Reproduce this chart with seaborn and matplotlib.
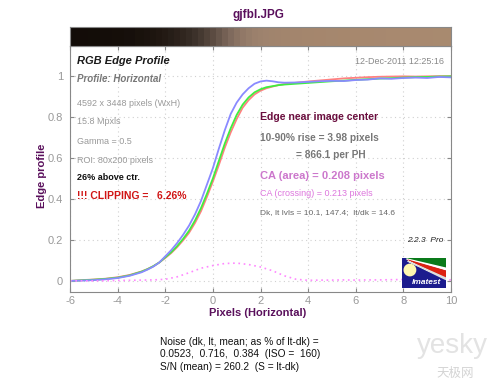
import numpy as np
import pandas as pd
import matplotlib
matplotlib.use("Agg")
import matplotlib.pyplot as plt
from matplotlib.patches import Polygon, Ellipse, Rectangle
import seaborn as sns

# Edge profile data (pixels vs normalized level)
pixels = [-6, -5.5, -5, -4.5, -4, -3.5, -3, -2.75, -2.5, -2.25, -2, -1.75, -1.5, -1.25,
          -1, -0.75, -0.5, -0.25, 0, 0.25, 0.5, 0.75, 1, 1.25, 1.5, 1.75, 2, 2.25, 2.5,
          2.75, 3, 3.5, 4, 4.5, 5, 5.5, 6, 6.5, 7, 7.5, 8, 8.5, 9, 9.5, 10]
red = [0.0, 0.004, 0.007, 0.011, 0.018, 0.029, 0.046, 0.058, 0.072, 0.09, 0.112, 0.136,
       0.165, 0.198, 0.235, 0.283, 0.34, 0.41, 0.485, 0.565, 0.65, 0.725, 0.79, 0.845,
       0.882, 0.91, 0.928, 0.94, 0.948, 0.955, 0.96, 0.967, 0.973, 0.978, 0.983, 0.988,
       0.991, 0.994, 0.996, 0.997, 0.998, 0.997, 0.998, 0.999, 0.999]
green = [0.0, 0.003, 0.006, 0.01, 0.016, 0.027, 0.045, 0.057, 0.072, 0.09, 0.115, 0.14,
         0.17, 0.205, 0.245, 0.295, 0.355, 0.425, 0.5, 0.585, 0.67, 0.745, 0.81, 0.86,
         0.895, 0.92, 0.935, 0.945, 0.95, 0.955, 0.958, 0.962, 0.966, 0.97, 0.974, 0.977,
         0.981, 0.984, 0.987, 0.989, 0.992, 0.994, 0.995, 0.997, 0.998]
blue = [0.0, 0.002, 0.004, 0.008, 0.014, 0.025, 0.042, 0.055, 0.07, 0.09, 0.12, 0.15,
        0.185, 0.225, 0.27, 0.325, 0.39, 0.47, 0.55, 0.645, 0.735, 0.815, 0.87, 0.91,
        0.94, 0.962, 0.973, 0.977, 0.974, 0.969, 0.967, 0.968, 0.971, 0.974, 0.976, 0.975,
        0.98, 0.982, 0.988, 0.986, 0.99, 0.992, 0.99, 0.995, 0.993]

# chromatic aberration difference curve
ca_pixels = [-6, -5.5, -5, -4.5, -4, -3.5, -3, -2.5, -2, -1.5, -1, -0.5, 0, 0.5, 1, 1.5,
             2, 2.5, 3, 3.5, 4, 4.5, 5, 5.5, 6, 6.5, 7, 7.5, 8, 8.5, 9, 9.5, 10]
ca_diff = [0.0, 0.0, 0.0, 0.001, 0.002, 0.003, 0.004, 0.005, 0.008, 0.02, 0.04, 0.062,
           0.075, 0.085, 0.087, 0.08, 0.068, 0.05, 0.025, 0.008, 0.003, 0.004, 0.004,
           0.005, 0.004, 0.005, 0.005, 0.006, 0.007, 0.006, 0.005, 0.005, 0.005]

x_ticks = [-6, -4, -2, 0, 2, 4, 6, 8, 10]
y_ticks = [0, 0.2, 0.4, 0.6, 0.8, 1.0]
y_tick_labels = ["0", "0.2", "0.4", "0.6", "0.8", "1"]

df = pd.DataFrame({
    "Pixels": pixels * 3,
    "Level": red + green + blue,
    "Channel": ["R"] * len(pixels) + ["G"] * len(pixels) + ["B"] * len(pixels),
})

sns.set_style("white")
plt.rcParams["font.family"] = ["Liberation Sans", "DejaVu Sans"]

W, H = 500, 384
fig = plt.figure(figsize=(W / 100, H / 100), dpi=100)


def fx(x, y):
    return x / W, 1 - y / H


ax = fig.add_axes([70 / W, 1 - 292 / H, 381 / W, 246 / H])
band = fig.add_axes([70 / W, 1 - 46 / H, 381 / W, 19 / H])

# gradient band derived from the channel profiles
dark = np.array([18, 12, 8]) / 255
light = np.array([168, 138, 112]) / 255
prof = np.array([red, green, blue]).T
colors = dark + prof * (light - dark)
edges = np.concatenate([[pixels[0]], (np.array(pixels[1:]) + np.array(pixels[:-1])) / 2, [pixels[-1]]])
band.pcolormesh(edges, [0, 1], colors[np.newaxis, :, :], shading="flat")
band.set_xlim(-6, 10)
band.set_ylim(0, 1)
band.set_xticks([])
band.set_yticks([])
for s in band.spines.values():
    s.set_color("#888888")

sns.lineplot(data=df, x="Pixels", y="Level", hue="Channel", hue_order=["R", "G", "B"],
             palette={"R": "#ff8080", "G": "#3fee3f", "B": "#8a8aff"},
             linewidth=1.3, legend=False, ax=ax)
sns.lineplot(x=ca_pixels, y=ca_diff, color="#ff88ff", linewidth=1.2,
             linestyle=(0, (1, 2.2)), ax=ax)

ax.set_xlim(-6, 10)
ax.set_ylim(-0.054, 1.146)
ax.set_xticks(x_ticks)
ax.set_xticklabels([str(t) for t in x_ticks])
ax.set_yticks(y_ticks)
ax.set_yticklabels(y_tick_labels)
ax.tick_params(direction="in", length=3, color="#888888", labelcolor="#999999",
               labelsize=8, top=True, right=True, left=True, bottom=True)
ax.tick_params(axis="x", pad=3)
ax.tick_params(axis="y", pad=5)
ax.grid(True, color="#d0d0d0", linestyle=(0, (1, 3)), linewidth=0.8)
for s in ax.spines.values():
    s.set_color("#888888")
ax.set_xlabel("")
ax.set_ylabel("")

purple = "#5a105c"
fig.text(*fx(258, 15), "gjfbl.JPG", ha="center", va="center", fontsize=8.5,
         fontweight="bold", color=purple)
fig.text(*fx(42, 176), "Edge profile", ha="center", va="center", rotation=90,
         fontsize=8, fontweight="bold", color=purple)
fig.text(*fx(258, 313), "Pixels (Horizontal)", ha="center", va="center",
         fontsize=8, fontweight="bold", color=purple)

fig.text(*fx(77, 61), "RGB Edge Profile", va="center", fontsize=8,
         fontweight="bold", style="italic", color="#1a1a1a")
fig.text(*fx(77, 79), "Profile: Horizontal", va="center", fontsize=7,
         fontweight="bold", style="italic", color="#777777")
fig.text(*fx(444, 61), "12-Dec-2011 12:25:16", ha="right", va="center",
         fontsize=6.5, color="#888888")
info = ["4592 x 3448 pixels (WxH)", "15.8 Mpxls", "Gamma = 0.5", "ROI: 80x200 pixels"]
for txt, yy in zip(info, [103, 122, 141, 160]):
    fig.text(*fx(77, yy), txt, va="center", fontsize=6.5, color="#999999")
fig.text(*fx(77, 177), "26% above ctr.", va="center", fontsize=6.5,
         fontweight="bold", color="#111111")
fig.text(*fx(77, 196), "!!! CLIPPING =   6.26%", va="center", fontsize=7.5,
         fontweight="bold", color="#d01515")

fig.text(*fx(260, 117), "Edge near image center", va="center", fontsize=7.6,
         fontweight="bold", color="#6b0f3f")
fig.text(*fx(260, 138), "10-90% rise = 3.98 pixels", va="center", fontsize=7.3,
         fontweight="bold", color="#777777")
fig.text(*fx(296, 155), "= 866.1 per PH", va="center", fontsize=7.3,
         fontweight="bold", color="#777777")
fig.text(*fx(260, 176), "CA (area) = 0.208 pixels", va="center", fontsize=8,
         fontweight="bold", color="#cc77cc")
fig.text(*fx(260, 193), "CA (crossing) = 0.213 pixels", va="center", fontsize=6.5,
         color="#dd77dd")
fig.text(*fx(260, 213), "Dk, lt lvls = 10.1, 147.4;  lt/dk = 14.6", va="center",
         fontsize=6, color="#666666")
fig.text(*fx(443, 240), "2.2.3  Pro", ha="right", va="center", fontsize=6,
         style="italic", color="#222222")

noise = ["Noise (dk, lt, mean; as % of lt-dk) =",
         "0.0523,  0.716,  0.384  (ISO =  160)",
         "S/N (mean) = 260.2  (S = lt-dk)"]
for txt, yy in zip(noise, [342, 354, 367]):
    fig.text(*fx(160, yy), txt, va="center", fontsize=7.3, color="#111111")

# Imatest logo
logo = fig.add_axes([402 / W, 1 - 288 / H, 44 / W, 30 / H])
logo.set_xlim(0, 1)
logo.set_ylim(0, 1)
logo.axis("off")
logo.add_patch(Rectangle((0, 0), 1, 1, color="#1c1c8e"))
logo.add_patch(Polygon([(0.1, 1.0), (1.0, 1.0), (1.0, 0.7)], color="#0a7a1a"))
logo.add_patch(Polygon([(0.1, 0.97), (1.0, 0.66), (1.0, 0.6)], color="white"))
logo.add_patch(Polygon([(0.13, 0.93), (1.0, 0.56), (1.0, 0.36)], color="#dd2211"))
logo.add_patch(Polygon([(0.13, 0.9), (1.0, 0.33), (1.0, 0.28)], color="#dddddd"))
logo.add_patch(Ellipse((0.18, 0.6), 0.26, 0.38, color="#fff8b0"))
logo.text(0.56, 0.2, "Imatest", ha="center", va="center", fontsize=6,
          fontweight="bold", style="italic", color="white")

# site watermark
fig.text(*fx(452, 346), "yesky", ha="center", va="center", fontsize=20,
         color="#dcdcdc", alpha=0.8)
fig.text(*fx(455, 373), "天极网", ha="center", va="center", fontsize=9,
         color="#d4d4d4", family=["Noto Sans CJK SC", "DejaVu Sans"])

fig.savefig("out.png", dpi=100)
